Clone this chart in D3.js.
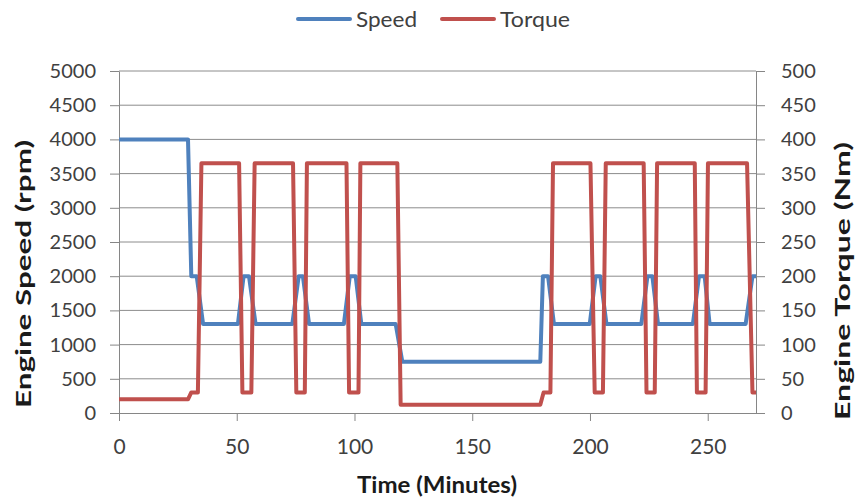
<!DOCTYPE html>
<html>
<head>
<meta charset="utf-8">
<script src="https://cdn.jsdelivr.net/npm/d3@7"></script>
<style>
  body { margin: 0; background: #fff; }
  text { font-family: Lato, "Open Sans", sans-serif; fill: #404040; }
  .tick line { stroke: #868686; }
  .domain { stroke: #868686; }
  .grid line { stroke: #8c8c8c; stroke-width: 1; }
  .title { font-weight: bold; fill: #1a1a1a; font-size: 21px; }
</style>
</head>
<body>
<script>
// Time (minutes) and values for each series
let speedTime = [0, 29.3, 30.7, 33, 35.7, 50.5, 52.9, 55.2, 58, 73.6, 76.3, 78.1, 80.7,
  95.5, 98, 100.5, 102.9, 117.5, 120.3, 178.9, 180, 182.2, 184.7, 199.9, 202.4, 204.4,
  207, 221.8, 224.4, 226.5, 228.9, 243.7, 246.3, 248.7, 250.8, 266.1, 269, 270.5];
let speedRpm = [4000, 4000, 2000, 2000, 1300, 1300, 2000, 2000, 1300, 1300, 2000, 2000, 1300,
  1300, 2000, 2000, 1300, 1300, 750, 750, 2000, 2000, 1300, 1300, 2000, 2000,
  1300, 1300, 2000, 2000, 1300, 1300, 2000, 2000, 1300, 1300, 2000, 2000];

let torqueTime = [0, 29.3, 30.7, 33.5, 35, 51, 52.4, 56.2, 57.6, 73.9, 75.3, 78.9, 79.8,
  96.6, 97.7, 101.7, 102.5, 118.2, 119.6, 178.9, 180.3, 183.2, 184.3, 200.2, 202, 205.5,
  206.7, 222.8, 224, 227.5, 228.5, 244.5, 245.4, 249.1, 250.1, 266.7, 269, 270.5];
let torqueNm = [20, 20, 30, 30, 365, 365, 30, 30, 365, 365, 30, 30, 365,
  365, 30, 30, 365, 365, 12, 12, 30, 30, 365, 365, 30, 30,
  365, 365, 30, 30, 365, 365, 30, 30, 365, 365, 30, 30];

let timeTicks = [0, 50, 100, 150, 200, 250];
let speedTicks = d3.range(0, 5001, 500);
let torqueTicks = d3.range(0, 501, 50);

let seriesNames = ["Speed", "Torque"];
let seriesColors = ["#4f81bd", "#c0504d"];

// Set the dimensions and margins of the graph
let margin = { top: 71, right: 102, bottom: 89, left: 119 };
let width = 858 - margin.left - margin.right;
let height = 502 - margin.top - margin.bottom;

let root = d3.select("body")
  .append("svg")
    .attr("width", 858)
    .attr("height", 502);

let svg = root.append("g")
    .attr("transform", "translate(" + margin.left + ", " + margin.top + ")");

let x = d3.scaleLinear().domain([0, 270.5]).range([0, width]);
let ySpeed = d3.scaleLinear().domain([0, 5000]).range([height, 0]);
let yTorque = d3.scaleLinear().domain([0, 500]).range([height, 0]);

// Horizontal gridlines
svg.append("g")
  .attr("class", "grid")
  .selectAll("line")
  .data(speedTicks.slice(1)).enter().append("line")
    .attr("x1", 0).attr("x2", width)
    .attr("y1", (d) => ySpeed(d)).attr("y2", (d) => ySpeed(d));

// Axes
let xAxis = svg.append("g")
  .attr("transform", "translate(0," + height + ")")
  .call(d3.axisBottom(x).tickValues(timeTicks).tickFormat(d3.format("d"))
    .tickSizeInner(8).tickSizeOuter(0).tickPadding(18));
xAxis.selectAll("text").style("font-size", "21px");

let leftAxis = svg.append("g")
  .call(d3.axisLeft(ySpeed).tickValues(speedTicks).tickFormat(d3.format("d"))
    .tickSizeInner(9).tickSizeOuter(0).tickPadding(14));
leftAxis.selectAll("text").style("font-size", "20px");

let rightAxis = svg.append("g")
  .attr("transform", "translate(" + width + ",0)")
  .call(d3.axisRight(yTorque).tickValues(torqueTicks).tickFormat(d3.format("d"))
    .tickSizeInner(9).tickSizeOuter(0).tickPadding(16));
rightAxis.selectAll("text").style("font-size", "20px");

// Series lines
let speedLine = d3.line()
  .x((d, i) => x(speedTime[i]))
  .y((d) => ySpeed(d));
let torqueLine = d3.line()
  .x((d, i) => x(torqueTime[i]))
  .y((d) => yTorque(d));

svg.append("path")
  .attr("d", speedLine(speedRpm))
  .attr("fill", "none")
  .attr("stroke", seriesColors[0])
  .attr("stroke-width", 4)
  .attr("stroke-linejoin", "round");

svg.append("path")
  .attr("d", torqueLine(torqueNm))
  .attr("fill", "none")
  .attr("stroke", seriesColors[1])
  .attr("stroke-width", 4)
  .attr("stroke-linejoin", "round");

// Axis titles
root.append("text")
  .attr("class", "title")
  .attr("x", 437).attr("y", 493)
  .attr("text-anchor", "middle")
  .attr("textLength", 160).attr("lengthAdjust", "spacingAndGlyphs")
  .style("font-size", "22px")
  .text("Time (Minutes)");

root.append("text")
  .attr("class", "title")
  .attr("transform", "translate(31,274) rotate(-90)")
  .attr("text-anchor", "middle")
  .attr("textLength", 268).attr("lengthAdjust", "spacingAndGlyphs")
  .text("Engine Speed (rpm)");

root.append("text")
  .attr("class", "title")
  .attr("transform", "translate(850,281) rotate(-90)")
  .attr("text-anchor", "middle")
  .attr("textLength", 278).attr("lengthAdjust", "spacingAndGlyphs")
  .text("Engine Torque (Nm)");

// Legend
let legendX = [298, 442];
let legendLen = [61, 70];
let legend = root.selectAll(".legend")
  .data(seriesNames).enter().append("g")
  .attr("class", "legend")
  .attr("transform", (d, i) => "translate(" + legendX[i] + ",19)");

legend.append("line")
  .attr("x1", 0).attr("x2", 52)
  .attr("stroke", (d, i) => seriesColors[i])
  .attr("stroke-width", 4)
  .attr("stroke-linecap", "round");

legend.append("text")
  .attr("x", 58).attr("y", 8)
  .attr("textLength", (d, i) => legendLen[i]).attr("lengthAdjust", "spacingAndGlyphs")
  .style("font-size", "21px")
  .text((d) => d);
</script>
</body>
</html>
